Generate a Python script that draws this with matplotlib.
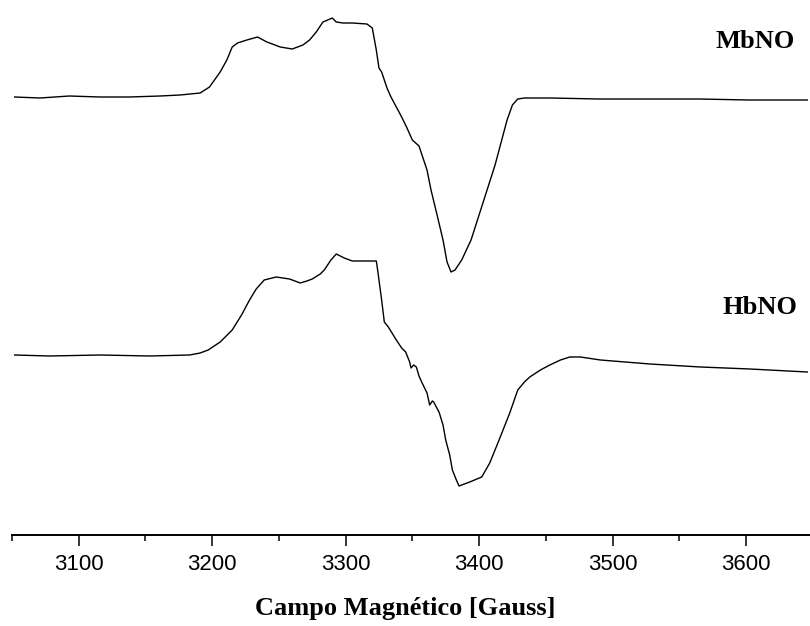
import numpy as np
import matplotlib.pyplot as plt
from matplotlib.ticker import MultipleLocator

# Espectros EPR (campo en Gauss, intensidad en unidades arbitrarias)
campo_mbno = [3052, 3071, 3093, 3116, 3138, 3161, 3176, 3191, 3198, 3206,
              3211, 3215, 3219, 3226, 3234, 3241, 3251, 3260, 3268, 3273,
              3278, 3283, 3290, 3293, 3298, 3305, 3316, 3320, 3323, 3325,
              3327, 3331, 3334, 3342, 3346, 3350, 3355, 3361, 3364, 3368,
              3373, 3376, 3379, 3382, 3387, 3394, 3400, 3406, 3412, 3417,
              3421, 3425, 3429, 3434, 3453, 3490, 3528, 3565, 3602, 3646]
int_mbno = [438, 437, 439, 438, 438, 439, 440, 442, 448, 463,
            475, 488, 492, 495, 498, 493, 488, 486, 490, 495,
            503, 513, 517, 513, 512, 512, 511, 507, 485, 467,
            463, 447, 438, 418, 407, 395, 389, 365, 345, 323,
            295, 273, 263, 265, 275, 295, 320, 345, 370, 395,
            415, 430, 436, 437, 437, 436, 436, 436, 435, 435]

campo_hbno = [3052, 3078, 3116, 3153, 3183, 3191, 3197, 3206, 3215, 3222,
              3228, 3233, 3239, 3248, 3258, 3266, 3271, 3275, 3281, 3284,
              3289, 3293, 3299, 3305, 3314, 3323, 3324, 3325, 3327, 3329,
              3332, 3338, 3342, 3345, 3348, 3349, 3351, 3353, 3355, 3357,
              3361, 3363, 3365, 3366, 3370, 3373, 3375, 3378, 3380, 3383,
              3385, 3393, 3402, 3408, 3415, 3423, 3429, 3434, 3438, 3446,
              3453, 3461, 3468, 3476, 3491, 3528, 3566, 3603, 3646]
int_hbno = [180, 179, 180, 179, 180, 182, 185, 193, 205, 220,
            235, 246, 255, 258, 256, 252, 254, 256, 261, 265,
            275, 281, 277, 274, 274, 274, 265, 255, 235, 213,
            208, 195, 187, 183, 173, 167, 170, 168, 159, 153,
            142, 130, 134, 133, 123, 110, 95, 80, 65, 55,
            49, 53, 58, 72, 95, 122, 145, 153, 158, 165,
            170, 175, 178, 178, 175, 171, 168, 166, 163]

fig = plt.figure(figsize=(8.1, 6.26), dpi=100)
ax = fig.add_axes([12 / 810, 91 / 626, 798 / 810, 535 / 626])

ax.plot(campo_mbno, int_mbno, color='black', linewidth=1.0)
ax.plot(campo_hbno, int_hbno, color='black', linewidth=1.0)

ax.set_xlim(3050, 3648)
ax.set_ylim(0, 535)

for lado in ['left', 'top', 'right']:
    ax.spines[lado].set_visible(False)
ax.spines['bottom'].set_linewidth(1.4)
ax.set_yticks([])

ax.xaxis.set_major_locator(MultipleLocator(100))
ax.xaxis.set_minor_locator(MultipleLocator(50))
ax.tick_params(axis='x', which='major', direction='out', length=8, width=1.1, pad=6)
ax.tick_params(axis='x', which='minor', direction='out', length=4.5, width=1.1)
for etiqueta in ax.get_xticklabels():
    etiqueta.set_fontfamily('Liberation Sans')
    etiqueta.set_fontsize(16)

fig.text(795 / 810, 1 - 42 / 626, 'MbNO', ha='right', va='center',
         family='Liberation Serif', weight='bold', fontsize=19)
fig.text(797 / 810, 1 - 307 / 626, 'HbNO', ha='right', va='center',
         family='Liberation Serif', weight='bold', fontsize=19)
fig.text(405 / 810, 1 - 608 / 626, 'Campo Magnético [Gauss]', ha='center', va='center',
         family='Liberation Serif', weight='bold', fontsize=19)

plt.savefig('out.png', dpi=100)
